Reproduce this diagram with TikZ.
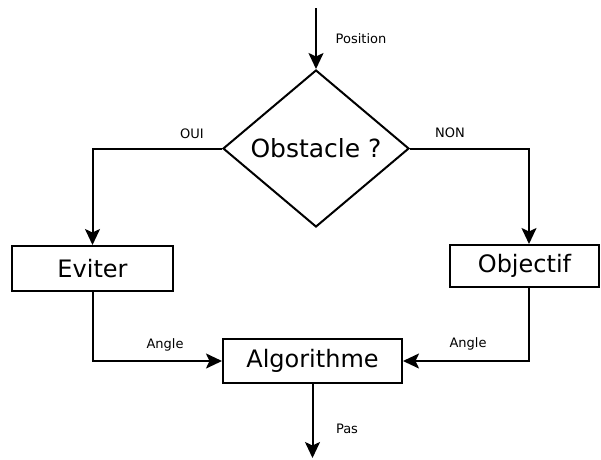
\documentclass[tikz,border=0pt]{standalone}
\usepackage{fontspec}
\setmainfont{DejaVu Sans}
\usetikzlibrary{arrows.meta,positioning,calc,shapes.geometric}
\tikzset{
  bigbox/.style={draw, line width=2pt, align=center, inner sep=0pt,
                 font=\fontsize{24}{28}\selectfont},
  testbox/.style={diamond, draw, line width=2pt, inner sep=0pt, aspect=1.18,
                  minimum width=186pt, minimum height=157pt,
                  font=\fontsize{25}{30}\selectfont},
  tag/.style={font=\fontsize{13}{15}\selectfont, inner sep=0pt},
  flow/.style={-{Stealth[length=16pt,width=15pt,inset=3.5pt]}, line width=2pt},
}
\begin{document}
\begin{tikzpicture}[x=1pt, y=-1pt]
  \useasboundingbox (0,0) rectangle (601,459);
  \coordinate (start) at (316,8);
  \coordinate (stop) at (312.5,458);
  \node[testbox] (obstacle) at (316,148.5) {Obstacle ?};
  \node[bigbox, minimum width=161pt, minimum height=45pt] (eviter) at (92.5,268.5) {Eviter};
  \node[bigbox, minimum width=149pt, minimum height=42pt] (objectif) at (524.5,266) {Objectif};
  \node[bigbox, minimum width=179pt, minimum height=44pt] (algo) at (312.5,361) {Algorithme};

  % labels
  \node[tag] (position) at (361,39) {Position};
  \node[tag] (oui) at (192,134) {OUI};
  \node[tag] (non) at (450,133) {NON};
  \node[tag] (angleA) at (165,345) {Angle};
  \node[tag] (angleB) at (468,344) {Angle};
  \node[tag] (pas) at (347,429) {Pas};

  \draw[flow] (start) -- (obstacle.north);
  \draw[flow] (obstacle.west) -| (eviter.north);
  \draw[flow] (obstacle.east) -| ([xshift=4.5pt]objectif.north);
  \draw[flow] (eviter.south) |- (algo.west);
  \draw[flow] ([xshift=4.5pt]objectif.south) |- (algo.east);
  \draw[flow] (algo.south) -- (stop);
\end{tikzpicture}
\end{document}
